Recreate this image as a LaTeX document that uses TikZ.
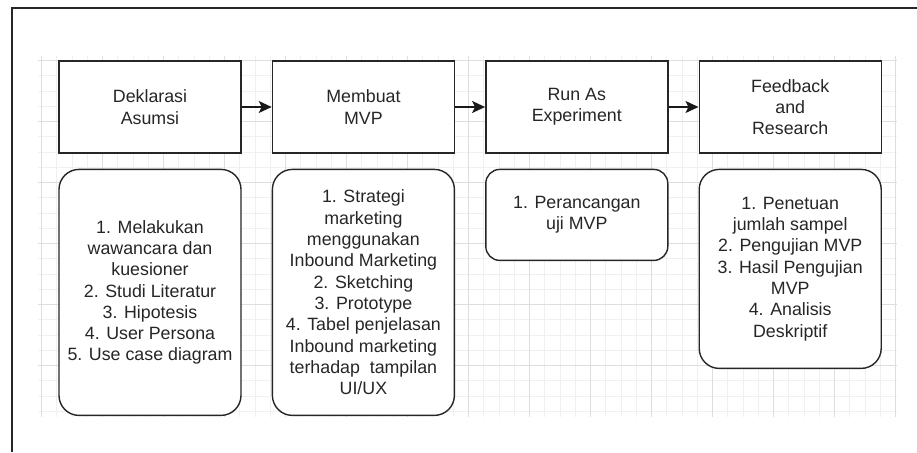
\documentclass[tikz,border=0pt]{standalone}
\usepackage{fontspec}
\setmainfont{Liberation Sans}
\usetikzlibrary{arrows.meta,positioning}

\tikzset{
  langkah/.style={draw=black!85, line width=1.4pt, fill=white,
    minimum width=182pt, minimum height=92pt, align=center,
    font=\fontsize{17.8}{21.3}\selectfont, text=black!85},
  rincian/.style={langkah, rounded corners=20pt},
  panah/.style={-{Stealth[length=13pt,width=12pt,inset=3pt]}, line width=1.5pt, black!90},
  garis kecil/.style={line width=0.6pt, black!6},
  garis besar/.style={line width=0.8pt, black!13},
}

\begin{document}
\begin{tikzpicture}[x=1pt, y=-1pt]
    \useasboundingbox (0,0) rectangle (917,452);
    \fill[white] (0,0) rectangle (917,452);

    % 背景网格
    \foreach \i in {0,...,56}
        \draw[garis kecil] ({41.5+\i*15.25},56) -- ++(0,361);
    \foreach \j in {0,...,23}
        \draw[garis kecil] (38,{60.5+\j*15.25}) -- ++(859,0);
    \foreach \i in {0,...,14}
        \draw[garis besar] ({41.5+\i*61},56) -- ++(0,361);
    \foreach \j in {0,...,5}
        \draw[garis besar] (38,{60.5+\j*61}) -- ++(859,0);

    % 外框
    \draw[line width=2.6pt, black!85] (12,452) -- (12,8) -- (917,8);

    % 上方四个步骤
    \node[langkah] (deklarasi) at (150,107) {Deklarasi\\Asumsi};
    \node[langkah, right=30pt of deklarasi] (mvp) {Membuat\\MVP};
    \node[langkah, right=30pt of mvp] (run) {Run As\\Experiment};
    \node[langkah, right=30pt of run] (feedback) {Feedback\\and\\Research};

    % 箭头
    \draw[panah] (deklarasi) -- (mvp);
    \draw[panah] (mvp) -- (run);
    \draw[panah] (run) -- (feedback);

    % 下方圆角说明框
    \node[rincian, minimum height=246pt, below=15pt of deklarasi] (isi1)
        {1. Melakukan\\wawancara dan\\kuesioner\\2. Studi Literatur\\3. Hipotesis\\4. User Persona\\5. Use case diagram};
    \node[rincian, minimum height=246pt, below=15pt of mvp] (isi2)
        {1. Strategi\\marketing\\menggunakan\\Inbound Marketing\\2. Sketching\\3. Prototype\\4. Tabel penjelasan\\Inbound marketing\\terhadap\ \ tampilan\\UI/UX};
    \node[rincian, rounded corners=14pt, minimum height=91pt, below=15pt of run] (isi3)
        {1. Perancangan\\uji MVP};
    \node[rincian, minimum height=199pt, below=15pt of feedback] (isi4)
        {1. Penetuan\\jumlah sampel\\2. Pengujian MVP\\3. Hasil Pengujian\\MVP\\4. Analisis\\Deskriptif};
\end{tikzpicture}
\end{document}
